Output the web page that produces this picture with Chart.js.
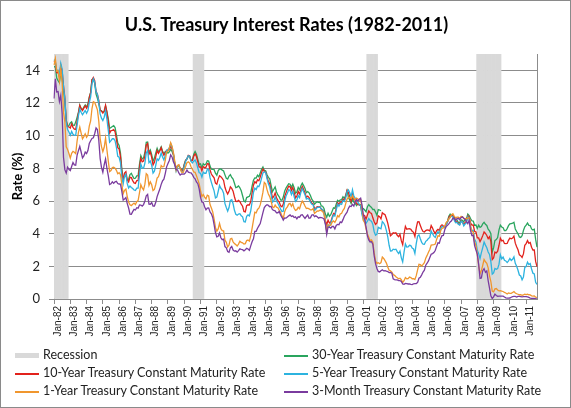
<!DOCTYPE html>
<html>
<head>
<meta charset="utf-8">
<script src="https://cdn.jsdelivr.net/npm/chart.js@4/dist/chart.umd.min.js"></script>
<style>
  html, body { margin:0; padding:0; background:#fff; }
  #wrap { position:relative; width:571px; height:408px; box-sizing:border-box; border:1px solid #8a8a8a; overflow:hidden; }
  #c { position:absolute; left:0; top:0; }
  #title { position:absolute; left:0; width:571px; top:12px; text-align:center; font-family:Lato, "Open Sans", sans-serif; font-weight:bold; font-size:18px; color:#000; }
  #legend { position:absolute; left:0; top:345px; width:571px; font-family:Lato, "Open Sans", sans-serif; font-size:12.5px; color:#222; }
  .li { position:absolute; height:18px; line-height:18px; white-space:nowrap; }
  .sw { position:absolute; left:0; top:9px; width:24px; }
  .tx { position:absolute; left:28px; top:0; }
</style>
</head>
<body>
<div id="wrap">
  <canvas id="c" width="571" height="408"></canvas>
  <div id="title">U.S. Treasury Interest Rates (1982-2011)</div>
  <div id="legend"></div>
</div>
<script>
// ---------- DATA ----------
const monthNames = ['Jan','Feb','Mar','Apr','May','Jun','Jul','Aug','Sep','Oct','Nov','Dec'];
const firstYear = 1982, lastYear = 2011, lastMonthOfLastYear = 9;
const categories = [];
for (let y = firstYear; y <= lastYear; y++) {
  const n = (y === lastYear) ? lastMonthOfLastYear : 12;
  for (let m = 0; m < n; m++) categories.push(monthNames[m] + '-' + String(y % 100).padStart(2, '0'));
}
const yTicks = [0, 2, 4, 6, 8, 10, 12, 14];
const yMax = 15;

const recessions = [['Jan-82','Nov-82'], ['Aug-90','Mar-91'], ['Apr-01','Nov-01'], ['Jan-08','Jun-09']];

const rate30 = [
 14.22,14.22,13.53,13.37,13.24,13.92,13.55,12.77,12.07,10.97,10.57,10.62, // 1982
 10.78,10.85,10.64,10.63,10.83,11.12,11.42,11.87,11.66,11.58,11.75,11.88, // 1983
 11.75,11.95,12.38,12.65,13.43,13.44,13.21,12.54,12.29,11.98,11.56,11.52, // 1984
 11.45,11.47,11.81,11.47,11.05,10.45,10.50,10.56,10.61,10.50,10.06,9.54,  // 1985
 9.40,8.93,7.96,7.39,7.52,7.57,7.27,7.33,7.62,7.70,7.52,7.37,             // 1986
 7.39,7.54,7.55,8.25,8.78,8.57,8.64,8.97,9.59,9.61,8.95,9.12,             // 1987
 8.83,8.43,8.63,8.95,9.23,9.00,9.14,9.32,9.06,8.89,9.02,9.01,             // 1988
 8.93,9.01,9.17,9.03,8.83,8.27,8.08,8.12,8.15,8.00,7.90,7.90,             // 1989
 8.26,8.50,8.56,8.76,8.73,8.46,8.50,8.86,9.03,8.86,8.54,8.24,             // 1990
 8.27,8.03,8.29,8.21,8.27,8.47,8.45,8.14,7.95,7.93,7.92,7.70,             // 1991
 7.58,7.85,7.97,7.96,7.89,7.84,7.60,7.39,7.34,7.53,7.61,7.44,             // 1992
 7.34,7.09,6.82,6.85,6.92,6.81,6.63,6.32,6.00,5.94,6.21,6.25,             // 1993
 6.29,6.49,6.91,7.27,7.41,7.40,7.58,7.49,7.71,7.94,8.08,7.87,             // 1994
 7.85,7.61,7.45,7.36,6.95,6.57,6.72,6.86,6.55,6.37,6.26,6.06,             // 1995
 6.05,6.24,6.60,6.79,6.93,7.06,7.03,6.84,7.03,6.81,6.48,6.55,             // 1996
 6.83,6.69,6.93,7.09,6.94,6.77,6.51,6.58,6.50,6.33,6.11,5.99,             // 1997
 5.81,5.89,5.95,5.92,5.93,5.70,5.68,5.54,5.20,5.01,5.25,5.06,             // 1998
 5.16,5.37,5.58,5.55,5.81,6.04,5.98,6.07,6.07,6.26,6.15,6.35,             // 1999
 6.63,6.23,6.05,5.85,6.15,5.93,5.85,5.72,5.83,5.80,5.78,5.49,             // 2000
 5.54,5.45,5.34,5.65,5.78,5.67,5.61,5.48,5.48,5.32,5.12,5.48,             // 2001
 5.45,5.40,null,null,null,null,null,null,null,null,null,null,             // 2002
 null,null,null,null,null,null,null,null,null,null,null,null,             // 2003
 null,null,null,null,null,null,null,null,null,null,null,null,             // 2004
 null,null,null,null,null,null,null,null,null,null,null,null,             // 2005
 null,4.54,4.73,5.06,5.20,5.15,5.13,5.00,4.85,4.85,4.69,4.68,             // 2006
 4.85,4.82,4.72,4.87,4.90,5.20,5.11,4.93,4.79,4.77,4.52,4.53,             // 2007
 4.33,4.52,4.39,4.44,4.60,4.69,4.57,4.50,4.27,4.17,4.00,2.87,             // 2008
 3.13,3.59,3.64,3.76,4.23,4.52,4.41,4.37,4.19,4.19,4.31,4.49,             // 2009
 4.60,4.62,4.64,4.69,4.29,4.13,3.99,3.80,3.77,3.87,4.19,4.42,             // 2010
 4.52,4.65,4.51,4.50,4.29,4.23,4.27,3.65,3.18                             // 2011
];

const rate10 = [
 14.59,14.43,13.86,13.87,13.62,14.30,13.95,13.06,12.34,10.91,10.55,10.54, // 1982
 10.46,10.72,10.51,10.40,10.38,10.85,11.38,11.85,11.65,11.54,11.69,11.83, // 1983
 11.67,11.84,12.32,12.63,13.41,13.56,13.36,12.72,12.52,12.16,11.57,11.50, // 1984
 11.38,11.51,11.86,11.43,10.85,10.16,10.31,10.33,10.37,10.24,9.78,9.26,   // 1985
 9.19,8.70,7.78,7.30,7.71,7.80,7.30,7.17,7.45,7.43,7.25,7.11,             // 1986
 7.08,7.25,7.25,8.02,8.61,8.40,8.45,8.76,9.42,9.52,8.86,8.99,             // 1987
 8.67,8.21,8.37,8.72,9.09,8.92,9.06,9.26,8.98,8.80,8.96,9.11,             // 1988
 9.09,9.17,9.36,9.18,8.86,8.28,8.02,8.11,8.19,8.01,7.87,7.84,             // 1989
 8.21,8.47,8.59,8.79,8.76,8.48,8.47,8.75,8.89,8.72,8.39,8.08,             // 1990
 8.09,7.85,8.11,8.04,8.07,8.28,8.27,7.90,7.65,7.53,7.42,7.09,             // 1991
 7.03,7.34,7.54,7.48,7.39,7.26,6.84,6.59,6.42,6.59,6.87,6.77,             // 1992
 6.60,6.26,5.98,5.97,6.04,5.96,5.81,5.68,5.36,5.33,5.72,5.77,             // 1993
 5.75,5.97,6.48,6.97,7.18,7.10,7.30,7.24,7.46,7.74,7.96,7.81,             // 1994
 7.78,7.47,7.20,7.06,6.63,6.17,6.28,6.49,6.20,6.04,5.93,5.71,             // 1995
 5.65,5.81,6.27,6.51,6.74,6.91,6.87,6.64,6.83,6.53,6.20,6.30,             // 1996
 6.58,6.42,6.69,6.89,6.71,6.49,6.22,6.30,6.21,6.03,5.88,5.81,             // 1997
 5.54,5.57,5.65,5.64,5.65,5.50,5.46,5.34,4.81,4.53,4.83,4.65,             // 1998
 4.72,5.00,5.23,5.18,5.54,5.90,5.79,5.94,5.92,6.11,6.03,6.28,             // 1999
 6.66,6.52,6.26,5.99,6.44,6.10,6.05,5.83,5.80,5.74,5.72,5.24,             // 2000
 5.16,5.10,4.89,5.14,5.39,5.28,5.24,4.97,4.73,4.57,4.65,5.09,             // 2001
 5.04,4.91,5.28,5.21,5.16,4.93,4.65,4.26,3.87,3.94,4.05,4.03,             // 2002
 4.05,3.90,3.81,3.96,3.57,3.33,3.98,4.45,4.27,4.29,4.30,4.27,             // 2003
 4.15,4.08,3.83,4.35,4.72,4.73,4.50,4.28,4.13,4.10,4.19,4.23,             // 2004
 4.22,4.17,4.50,4.34,4.14,4.00,4.18,4.26,4.20,4.46,4.54,4.47,             // 2005
 4.42,4.57,4.72,4.99,5.11,5.11,5.09,4.88,4.72,4.73,4.60,4.56,             // 2006
 4.76,4.72,4.56,4.69,4.75,5.10,5.00,4.67,4.52,4.53,4.15,4.10,             // 2007
 3.74,3.74,3.51,3.68,3.88,4.10,4.01,3.89,3.69,3.81,3.53,2.42,             // 2008
 2.52,2.87,2.82,2.93,3.29,3.72,3.56,3.59,3.40,3.39,3.40,3.59,             // 2009
 3.73,3.69,3.73,3.85,3.42,3.20,3.01,2.70,2.65,2.54,2.76,3.29,             // 2010
 3.39,3.58,3.41,3.46,3.17,3.00,3.00,2.30,1.98                             // 2011
];

const rate5 = [
 14.65,14.54,13.98,14.00,13.75,14.43,14.07,13.00,12.25,10.80,10.38,10.22, // 1982
 10.03,10.26,10.08,10.02,10.03,10.63,11.21,11.63,11.43,11.28,11.41,11.54, // 1983
 11.37,11.54,12.02,12.37,13.17,13.48,13.27,12.68,12.53,12.06,11.33,11.07, // 1984
 10.93,11.13,11.52,11.01,10.34,9.60,9.70,9.81,9.81,9.69,9.28,8.73,        // 1985
 8.68,8.34,7.46,7.05,7.52,7.64,7.06,6.80,6.92,6.83,6.76,6.67,             // 1986
 6.64,6.79,6.79,7.57,8.26,8.02,8.01,8.32,8.94,9.08,8.35,8.45,             // 1987
 8.18,7.71,7.83,8.19,8.58,8.49,8.66,8.94,8.69,8.51,8.79,9.09,             // 1988
 9.15,9.27,9.51,9.30,8.91,8.29,7.83,8.09,8.17,7.97,7.81,7.75,             // 1989
 8.12,8.42,8.60,8.77,8.74,8.43,8.33,8.44,8.51,8.33,8.02,7.73,             // 1990
 7.70,7.47,7.77,7.70,7.70,7.94,7.91,7.43,7.14,6.87,6.62,6.19,             // 1991
 6.24,6.58,6.95,6.78,6.69,6.48,5.84,5.60,5.38,5.60,6.04,6.08,             // 1992
 5.83,5.43,5.19,5.13,5.20,5.22,5.09,5.03,4.73,4.71,5.06,5.15,             // 1993
 5.09,5.40,5.94,6.52,6.78,6.70,6.91,6.88,7.08,7.40,7.72,7.78,             // 1994
 7.76,7.37,7.05,6.86,6.41,5.93,6.01,6.24,6.00,5.86,5.69,5.51,             // 1995
 5.36,5.38,5.97,6.30,6.48,6.69,6.64,6.39,6.60,6.27,5.97,6.07,             // 1996
 6.33,6.20,6.54,6.76,6.57,6.38,6.12,6.16,6.11,5.93,5.80,5.77,             // 1997
 5.42,5.49,5.61,5.61,5.63,5.52,5.46,5.27,4.62,4.18,4.54,4.45,             // 1998
 4.60,4.91,5.14,5.08,5.44,5.81,5.68,5.84,5.80,6.03,5.97,6.19,             // 1999
 6.58,6.68,6.50,6.26,6.69,6.30,6.18,6.06,5.93,5.78,5.70,5.17,             // 2000
 4.86,4.89,4.64,4.76,4.93,4.81,4.76,4.57,4.12,3.91,3.97,4.39,             // 2001
 4.34,4.30,4.74,4.65,4.49,4.19,3.81,3.29,2.94,2.95,3.05,3.03,             // 2002
 3.05,2.90,2.78,2.93,2.52,2.27,2.87,3.37,3.18,3.19,3.29,3.27,             // 2003
 3.12,3.07,2.79,3.39,3.85,3.93,3.69,3.47,3.36,3.35,3.53,3.60,             // 2004
 3.71,3.77,4.17,4.00,3.85,3.77,3.98,4.12,4.01,4.33,4.45,4.39,             // 2005
 4.35,4.57,4.72,4.90,5.00,5.07,5.04,4.82,4.67,4.69,4.58,4.53,             // 2006
 4.75,4.71,4.48,4.59,4.67,5.03,4.88,4.43,4.20,4.20,3.67,3.49,             // 2007
 2.98,2.78,2.48,2.84,3.15,3.49,3.30,3.14,2.88,2.73,2.29,1.52,             // 2008
 1.60,1.87,1.82,1.86,2.13,2.71,2.46,2.57,2.37,2.33,2.23,2.34,             // 2009
 2.48,2.36,2.43,2.58,2.18,2.00,1.76,1.47,1.41,1.18,1.35,1.93,             // 2010
 1.99,2.26,2.11,2.17,1.84,1.58,1.54,1.02,0.90                             // 2011
];

const rate1 = [
 14.32,14.73,13.95,13.98,13.34,14.07,13.24,11.43,10.85,9.32,9.16,8.91,    // 1982
 8.62,8.92,9.04,8.98,8.90,9.66,10.20,10.53,10.16,9.81,9.94,10.11,         // 1983
 9.90,10.04,10.59,10.90,11.66,12.08,12.03,11.82,11.58,10.90,9.82,9.33,    // 1984
 9.02,9.29,9.86,9.14,8.46,7.80,7.86,8.05,8.07,8.01,7.88,7.67,             // 1985
 7.73,7.61,7.03,6.44,6.65,6.73,6.27,5.93,5.77,5.72,5.80,5.87,             // 1986
 5.78,5.96,6.03,6.50,7.00,6.80,6.68,7.03,7.67,7.59,6.96,7.17,             // 1987
 6.99,6.64,6.71,7.01,7.40,7.49,7.75,8.17,8.09,8.11,8.48,8.99,             // 1988
 9.05,9.25,9.57,9.36,8.98,8.44,7.89,8.18,8.22,7.99,7.77,7.72,             // 1989
 7.92,8.11,8.35,8.40,8.32,8.10,7.94,7.78,7.76,7.55,7.31,7.05,             // 1990
 6.64,6.27,6.40,6.24,6.13,6.36,6.31,5.78,5.57,5.33,4.89,4.38,             // 1991
 4.15,4.29,4.63,4.30,4.19,4.17,3.60,3.47,3.18,3.30,3.68,3.71,             // 1992
 3.50,3.39,3.33,3.24,3.36,3.54,3.47,3.44,3.36,3.39,3.58,3.61,             // 1993
 3.54,3.87,4.32,4.82,5.31,5.27,5.48,5.56,5.76,6.11,6.54,7.14,             // 1994
 7.05,6.70,6.43,6.27,6.00,5.64,5.59,5.75,5.62,5.59,5.43,5.31,             // 1995
 5.09,4.94,5.34,5.54,5.64,5.81,5.85,5.67,5.83,5.55,5.42,5.47,             // 1996
 5.61,5.53,5.80,5.99,5.87,5.69,5.54,5.56,5.52,5.46,5.46,5.53,             // 1997
 5.24,5.31,5.39,5.38,5.44,5.41,5.36,5.21,4.71,4.12,4.53,4.52,             // 1998
 4.51,4.70,4.78,4.69,4.85,5.10,5.03,5.20,5.25,5.43,5.55,5.84,             // 1999
 6.12,6.22,6.22,6.15,6.33,6.17,6.08,6.18,6.13,6.01,6.09,5.60,             // 2000
 4.81,4.68,4.30,3.98,3.78,3.58,3.62,3.47,2.82,2.33,2.18,2.22,             // 2001
 2.16,2.23,2.57,2.48,2.35,2.20,1.96,1.76,1.72,1.65,1.49,1.45,             // 2002
 1.36,1.30,1.24,1.27,1.18,1.01,1.12,1.31,1.24,1.25,1.34,1.31,             // 2003
 1.24,1.24,1.19,1.43,1.78,2.12,2.10,2.02,2.12,2.23,2.50,2.67,             // 2004
 2.86,3.03,3.30,3.32,3.33,3.36,3.64,3.87,3.85,4.18,4.33,4.35,             // 2005
 4.45,4.68,4.77,4.90,5.00,5.16,5.22,5.08,4.97,5.01,5.01,4.94,             // 2006
 5.06,5.05,4.92,4.93,4.91,4.96,4.96,4.47,4.14,4.10,3.50,3.26,             // 2007
 2.71,2.05,1.54,1.74,2.06,2.42,2.28,2.18,1.91,1.42,1.07,0.49,             // 2008
 0.44,0.62,0.64,0.55,0.50,0.51,0.48,0.46,0.40,0.37,0.31,0.37,             // 2009
 0.35,0.35,0.40,0.45,0.37,0.32,0.29,0.26,0.26,0.23,0.25,0.29,             // 2010
 0.27,0.29,0.26,0.25,0.19,0.18,0.19,0.11,0.10                             // 2011
];

const rate3m = [
 12.28,13.48,12.68,12.70,12.09,12.47,11.35,8.68,7.92,7.71,8.07,7.94,      // 1982
 7.86,8.11,8.35,8.21,8.19,8.79,9.08,9.34,9.00,8.64,8.76,9.00,             // 1983
 8.90,9.09,9.52,9.69,9.83,9.87,10.12,10.47,10.37,9.74,8.61,8.06,          // 1984
 7.76,8.22,8.57,8.00,7.56,7.01,7.05,7.18,7.08,7.17,7.20,7.07,             // 1985
 7.04,7.03,6.59,6.06,6.12,6.21,5.84,5.57,5.19,5.18,5.35,5.49,             // 1986
 5.45,5.59,5.56,5.76,5.75,5.69,5.78,6.00,6.32,6.40,5.81,5.80,             // 1987
 5.90,5.69,5.69,5.92,6.27,6.50,6.73,7.02,7.23,7.34,7.68,8.09,             // 1988
 8.29,8.48,8.83,8.70,8.40,8.22,7.92,7.91,7.72,7.59,7.65,7.64,             // 1989
 7.64,7.74,7.90,7.77,7.74,7.73,7.62,7.45,7.36,7.17,7.06,6.74,             // 1990
 6.22,5.94,5.91,5.65,5.46,5.57,5.58,5.33,5.22,4.99,4.56,4.07,             // 1991
 3.80,3.84,4.04,3.75,3.63,3.66,3.21,3.13,2.91,2.86,3.13,3.22,             // 1992
 3.00,2.93,2.95,2.87,2.96,3.07,3.04,3.02,2.95,3.02,3.10,3.06,             // 1993
 2.98,3.25,3.50,3.68,4.14,4.14,4.33,4.48,4.62,4.95,5.29,5.60,             // 1994
 5.71,5.77,5.73,5.65,5.67,5.47,5.42,5.40,5.28,5.28,5.36,5.14,             // 1995
 5.00,4.83,4.96,4.95,5.02,5.09,5.15,5.05,5.09,4.99,5.03,4.91,             // 1996
 5.03,5.01,5.14,5.16,5.05,4.93,5.05,5.14,4.95,4.97,5.14,5.16,             // 1997
 5.04,5.09,5.03,4.95,5.00,4.98,4.96,4.90,4.61,3.96,4.41,4.39,             // 1998
 4.34,4.44,4.44,4.29,4.50,4.57,4.55,4.72,4.68,4.86,5.07,5.20,             // 1999
 5.32,5.55,5.69,5.66,5.79,5.69,5.96,6.09,6.00,6.11,6.17,5.77,             // 2000
 5.15,4.88,4.42,3.87,3.62,3.49,3.51,3.36,2.64,2.16,1.87,1.69,             // 2001
 1.65,1.73,1.79,1.72,1.73,1.70,1.68,1.62,1.63,1.58,1.23,1.19,             // 2002
 1.17,1.17,1.13,1.13,1.07,0.92,0.90,0.95,0.94,0.92,0.93,0.90,             // 2003
 0.88,0.93,0.94,0.94,1.02,1.27,1.33,1.48,1.65,1.76,2.07,2.19,             // 2004
 2.33,2.54,2.74,2.78,2.84,2.97,3.22,3.44,3.42,3.71,3.88,3.89,             // 2005
 4.24,4.43,4.51,4.60,4.72,4.79,4.95,4.96,4.81,4.92,4.94,4.85,             // 2006
 4.98,5.03,4.94,4.87,4.73,4.61,4.82,4.20,3.89,3.90,3.27,3.00,             // 2007
 2.75,2.12,1.26,1.29,1.73,1.86,1.63,1.72,1.13,0.67,0.19,0.03,             // 2008
 0.13,0.30,0.22,0.16,0.18,0.18,0.18,0.17,0.12,0.07,0.05,0.05,             // 2009
 0.06,0.11,0.15,0.16,0.16,0.12,0.16,0.16,0.15,0.13,0.14,0.14,             // 2010
 0.15,0.13,0.10,0.06,0.04,0.04,0.04,0.02,0.01                             // 2011
];

// ---------- BUILD ----------
const recessionData = categories.map((c, i) => {
  for (const [a, b] of recessions) {
    if (i >= categories.indexOf(a) && i <= categories.indexOf(b)) return yMax;
  }
  return null;
});

const series = [
  { label: '30-Year Treasury Constant Maturity Rate', data: rate30, color: '#2aa55e', order: 5 },
  { label: '10-Year Treasury Constant Maturity Rate', data: rate10, color: '#e2221c', order: 4 },
  { label: '5-Year Treasury Constant Maturity Rate',  data: rate5,  color: '#2cb3df', order: 3 },
  { label: '1-Year Treasury Constant Maturity Rate',  data: rate1,  color: '#f0962e', order: 2 },
  { label: '3-Month Treasury Constant Maturity Rate', data: rate3m, color: '#7a3b9e', order: 1 }
];

const datasets = [{
  type: 'bar', label: 'Recession', data: recessionData,
  backgroundColor: '#d9d9d9', borderWidth: 0,
  barPercentage: 1.0, categoryPercentage: 1.0, order: 10, yAxisID: 'y'
}].concat(series.map(s => ({
  type: 'line', label: s.label, data: s.data,
  borderColor: s.color, backgroundColor: s.color, borderWidth: 1.3,
  pointRadius: 0, tension: 0, spanGaps: false, order: s.order, yAxisID: 'y'
})));

const gridGray = '#8c8c8c';

new Chart(document.getElementById('c'), {
  type: 'line',
  data: { labels: categories, datasets },
  options: {
    responsive: false, animation: false,
    layout: { padding: { left: 0, right: 35, top: 53, bottom: 50 } },
    plugins: { legend: { display: false }, tooltip: { enabled: false }, title: { display: false } },
    scales: {
      x: {
        type: 'category', offset: false,
        grid: { display: true, offset: false, drawOnChartArea: false, drawTicks: true, tickLength: 5, color: gridGray, lineWidth: 1 },
        border: { display: true, color: gridGray, width: 1 },
        ticks: {
          autoSkip: false, minRotation: 90, maxRotation: 90, padding: 2, labelOffset: 4,
          color: '#222', font: { family: '"Liberation Sans", Arial, sans-serif', size: 10 },
          callback: function (v, i) { const l = categories[i]; return l.startsWith('Jan') ? l : null; }
        },
        afterFit: s => { s.height = 60; }
      },
      y: {
        min: 0, max: yMax, position: 'left',
        afterBuildTicks: s => { s.ticks = yTicks.map(v => ({ value: v })); },
        grid: { color: gridGray, lineWidth: 1, drawTicks: true, tickLength: 5 },
        border: { display: true, color: gridGray, width: 1 },
        ticks: { padding: 9, color: '#222', font: { family: 'Lato, "Open Sans", sans-serif', size: 13 } },
        title: { display: true, text: 'Rate (%)', color: '#000', font: { family: 'Lato, "Open Sans", sans-serif', size: 13, weight: 'bold' }, padding: { top: 9, bottom: 0 } },
        afterFit: s => { s.width = 53; }
      },
      y2: {
        position: 'right', min: 0, max: yMax, display: true,
        grid: { drawOnChartArea: false, drawTicks: false },
        border: { display: true, color: gridGray, width: 1 },
        ticks: { display: false },
        afterFit: s => { s.width = 0; }
      }
    }
  }
});

// ---------- HTML LEGEND (real text) ----------
const legendItems = [{ label: 'Recession', color: '#d9d9d9', box: true }].concat(series.map(s => ({ label: s.label, color: s.color })));
const legend = document.getElementById('legend');
const colX = [14, 283], rowTops = [0, 18, 36];
legendItems.forEach((it, k) => {
  const d = document.createElement('div');
  d.className = 'li';
  d.style.left = colX[k % 2] + 'px';
  d.style.top = rowTops[Math.floor(k / 2)] + 'px';
  const sw = document.createElement('span');
  sw.className = 'sw';
  if (it.box) { sw.style.height = '5px'; sw.style.top = '7px'; sw.style.background = it.color; }
  else { sw.style.height = '2px'; sw.style.top = '9px'; sw.style.background = it.color; }
  const tx = document.createElement('span');
  tx.className = 'tx'; tx.textContent = it.label;
  d.appendChild(sw); d.appendChild(tx);
  legend.appendChild(d);
});
</script>
</body>
</html>
